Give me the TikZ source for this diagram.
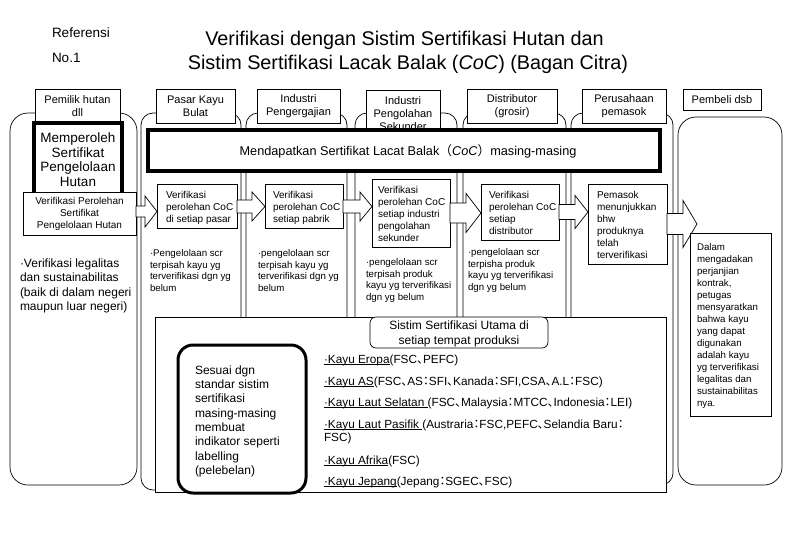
\documentclass[tikz,border=0pt]{standalone}
\usepackage{fontspec}
\setmainfont{Liberation Sans}
\newfontfamily\cjk{Noto Sans CJK JP}
\newfontfamily\cjkp[RawFeature=+palt]{Noto Sans CJK JP}
\newcommand\JPc{{\cjkp 、}}
\newcommand\JPk{{\cjkp ：}}
\newcommand\setfs[2]{\fontsize{#1}{#2}\selectfont}
\newcommand\ulx[1]{\setbox0\hbox{#1}\rlap{\rule[-1.8pt]{\wd0}{0.6pt}}\box0}
\newcommand\blockarrow[6]{\draw[barrow] (#1,#4-#5) -- (#2,#4-#5) -- (#2,#4-#6) -- (#3,#4) -- (#2,#4+#6) -- (#2,#4+#5) -- (#1,#4+#5) -- cycle;}
\begin{document}
\begin{tikzpicture}[x=1pt,y=-1pt,line width=0.7pt,
  col/.style={draw,rounded corners=12},
  box/.style={draw,fill=white,inner sep=0pt,outer sep=0pt},
  txt/.style={inner sep=0pt,outer sep=0pt,align=left},
  hdr/.style={box,align=center,font=\setfs{11}{13}},
  stagebox/.style={box},
  stagetxt/.style={txt,anchor=north west,font=\setfs{10}{12}},
  notetxt/.style={txt,anchor=north west,font=\setfs{9.7}{11.7}},
  listtxt/.style={txt,anchor=base west,font=\setfs{11.8}{14}},
  barrow/.style={draw,fill=white,line join=miter}]
\fill[white] (0,0) rectangle (792,539);
\useasboundingbox (0,0) rectangle (792,539);

% title
\node[txt,anchor=base west,font=\setfs{13.5}{16}] (ref) at (52,37) {Referensi};
\node[txt,anchor=base west,font=\setfs{13.5}{16}] (no) at (52,62) {No.1};
\node[txt,anchor=base,font=\setfs{19.8}{24}] (t1) at (404.5,45) {Verifikasi dengan Sistim Sertifikasi Hutan dan};
\node[txt,anchor=base,font=\setfs{19.8}{24}] (t2) at (408,69) {Sistim Sertifikasi Lacak Balak (\textit{CoC}) (Bagan Citra)};

% columns
\draw[col,rounded corners=18] (10,113) rectangle (137,485);
\draw[col] (141,113) rectangle (241,490);
\draw[col] (246,113) rectangle (347,490);
\draw[col] (355,113) rectangle (457,490);
\draw[col] (463,113) rectangle (566,490);
\draw[col] (571,113) rectangle (673,485);
\draw[col,rounded corners=18] (678,117) rectangle (782,485);

% headers
\node[hdr,minimum width=85,minimum height=34] (h1) at (77.5,106) {Pemilik hutan\\dll};
\node[hdr,minimum width=79,minimum height=34] (h2) at (195.5,106) {Pasar Kayu\\Bulat};
\node[hdr,minimum width=83,minimum height=34] (h3) at (298.5,106) {Industri\\Pengergajian};
\node[box,minimum width=74,minimum height=52] (h4) at (403,116) {};
\node[txt,align=center,font=\setfs{11}{13}] (h4t) at (403,113.5) {Industri\\Pengolahan\\Sekunder};
\node[hdr,minimum width=90,minimum height=34] (h5) at (512,106) {Distributor\\(grosir)};
\node[hdr,minimum width=84,minimum height=34] (h6) at (624,106) {Perusahaan\\pemasok};
\node[hdr,minimum width=78,minimum height=21] (h7) at (722,99.5) {Pembeli dsb};

% CoC bar
\node[box,line width=4,minimum width=512,minimum height=41] (coc) at (404,150.5) {};
\node[txt,font=\setfs{12.7}{15}] (coct) at (408,151) {Mendapatkan Sertifikat Lacat Balak{\cjk （}\textit{CoC}{\cjk ）}masing-masing};

% column 1
\node[box,line width=3.5,minimum width=88,minimum height=80] (mp) at (78,163) {};
\node[txt,align=center,font=\setfs{13.5}{14.5}] (mpt) at (78,159.5) {Memperoleh\\Sertifikat\\Pengelolaan\\Hutan};
\node[box,minimum width=113,minimum height=43,align=center,font=\setfs{10}{12}] (vp) at (79.5,213.5) {Verifikasi Perolehan\\Sertifikat\\Pengelolaan Hutan};
\node[txt,anchor=north west,font=\setfs{12}{14.4}] (c1t) at (20,258.5) {·Verifikasi legalitas\\dan sustainabilitas\\(baik di dalam negeri\\maupun luar negeri)};

% stage boxes
\node[stagebox,minimum width=80,minimum height=44] (sb1) at (197,206) {};
\node[stagetxt] (sb1t) at (166,191) {Verifikasi\\perolehan CoC\\di setiap pasar};
\node[stagebox,minimum width=78,minimum height=44] (sb2) at (304,206) {};
\node[stagetxt] (sb2t) at (273,191) {Verifikasi\\perolehan CoC\\setiap pabrik};
\node[stagebox,minimum width=78,minimum height=68] (sb3) at (411,213) {};
\node[stagetxt] (sb3t) at (378,186) {Verifikasi\\perolehan CoC\\setiap industri\\pengolahan\\sekunder};
\node[stagebox,minimum width=78,minimum height=56] (sb4) at (520,212) {};
\node[stagetxt] (sb4t) at (489,191) {Verifikasi\\perolehan CoC\\setiap\\distributor};
\node[stagebox,minimum width=79,minimum height=80] (sb5) at (627.5,224) {};
\node[stagetxt] (sb5t) at (597,191) {Pemasok\\menunjukkan\\bhw\\produknya\\telah\\terverifikasi};

% notes
\node[notetxt] (n1) at (150,249.3) {·Pengelolaan scr\\terpisah kayu yg\\terverifikasi dgn yg\\belum};
\node[notetxt] (n2) at (258,249.3) {·pengelolaan scr\\terpisah kayu yg\\terverifikasi dgn yg\\belum};
\node[notetxt] (n3) at (366,258.3) {·pengelolaan scr\\terpisah produk\\kayu yg terverifikasi\\dgn yg belum};
\node[notetxt] (n4) at (468,248.3) {·pengelolaan scr\\terpisha produk\\kayu yg terverifikasi\\dgn yg belum};

% block arrows
\blockarrow{136}{145}{157}{211.5}{5.5}{15.5}
\blockarrow{237}{252}{265}{206.5}{6.5}{14.5}
\blockarrow{343}{360}{372}{206.5}{6.5}{14.5}
\blockarrow{450}{466}{481}{213}{10}{19.5}
\blockarrow{559}{575}{588}{212}{7.5}{16.5}
\blockarrow{667}{683}{697}{224}{10.5}{23.5}

% buyer box
\node[stagebox,minimum width=81,minimum height=183] (sb6) at (730.5,324.5) {};
\node[txt,anchor=north west,font=\setfs{9.7}{12}] (sb6t) at (697,243.3) {Dalam\\mengadakan\\perjanjian\\kontrak,\\petugas\\mensyaratkan\\bahwa kayu\\yang dapat\\digunakan\\adalah kayu\\yg terverifikasi\\legalitas dan\\sustainabilitas\\nya.};

% bottom box
\node[box,minimum width=511,minimum height=175] (bb) at (410.5,404.5) {};
\node[draw,fill=white,rounded corners=6,inner sep=0pt,minimum width=178,minimum height=31] (tab) at (459,332.5) {};
\node[txt,align=center,font=\setfs{12}{15}] (tabt) at (459,333.5) {Sistim Sertifikasi Utama di\\setiap tempat produksi};
\node[draw,line width=3,rounded corners=15,fill=white,inner sep=0pt,minimum width=128,minimum height=148] (ss) at (242,419) {};
\node[txt,anchor=north west,font=\setfs{12}{14.3}] (sst) at (195,365.5) {Sesuai dgn\\standar sistim\\sertifikasi\\masing-masing\\membuat\\indikator seperti\\labelling\\(pelebelan)};

\node[listtxt] (k1) at (324,363) {\ulx{·Kayu Eropa} (FSC\JPc PEFC)};
\node[listtxt] (k2) at (324,385) {\ulx{·Kayu AS} (FSC\JPc AS\JPk SFI\JPc Kanada\JPk SFI,CSA\JPc A.L\JPk FSC)};
\node[listtxt] (k3) at (324,406) {\ulx{·Kayu Laut Selatan }(FSC\JPc Malaysia\JPk MTCC\JPc Indonesia\JPk LEI)};
\node[listtxt] (k4) at (324,428) {\ulx{·Kayu Laut Pasifik }(Austraria\JPk FSC,PEFC\JPc Selandia Baru\JPk};
\node[listtxt] (k4b) at (324,441) {FSC)};
\node[listtxt] (k5) at (324,464) {\ulx{·Kayu Afrika}(FSC)};
\node[listtxt] (k6) at (324,485) {\ulx{·Kayu Jepang}(Jepang\JPk SGEC\JPc FSC)};
\end{tikzpicture}
\end{document}
